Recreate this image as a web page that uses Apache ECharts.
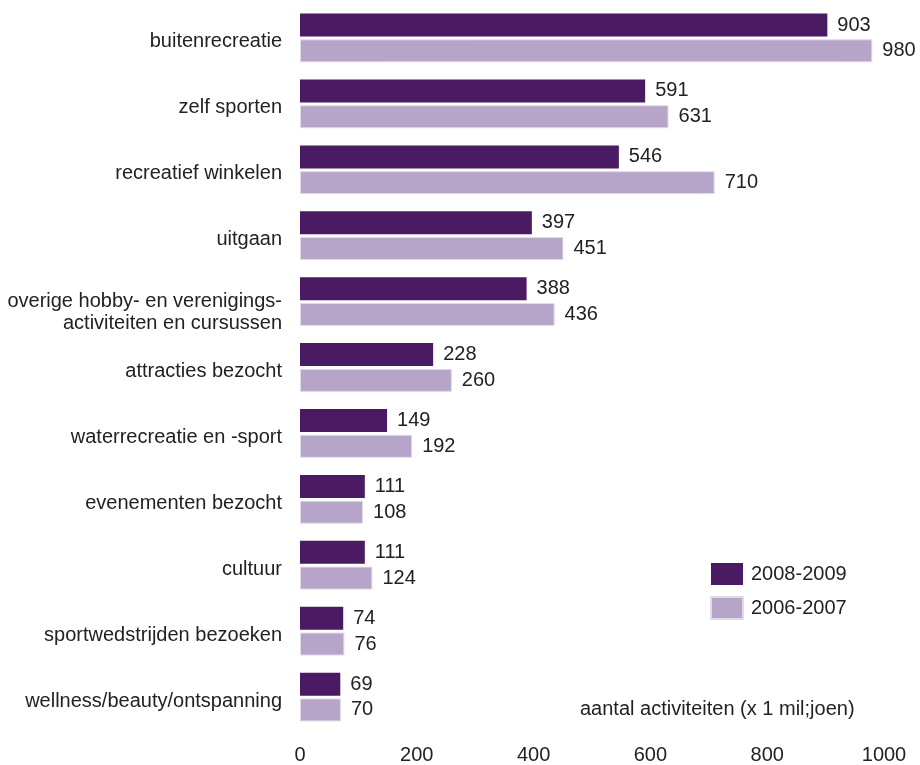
<!DOCTYPE html>
<html>
<head>
<meta charset="utf-8">
<script src="https://cdn.jsdelivr.net/npm/echarts@6/dist/echarts.min.js"></script>
<style>
  html, body { margin: 0; padding: 0; background: #fff; }
  #chart { width: 920px; height: 765px; }
</style>
</head>
<body>
<div id="chart"></div>
<script>
// Categories of leisure activities, top to bottom
const categories = [
  'buitenrecreatie',
  'zelf sporten',
  'recreatief winkelen',
  'uitgaan',
  'overige hobby- en verenigings-\nactiviteiten en cursussen',
  'attracties bezocht',
  'waterrecreatie en -sport',
  'evenementen bezocht',
  'cultuur',
  'sportwedstrijden bezoeken',
  'wellness/beauty/ontspanning'
];

// Number of activities (x 1 million)
const values2008 = [903, 591, 546, 397, 388, 228, 149, 111, 111, 74, 69];
const values2006 = [980, 631, 710, 451, 436, 260, 192, 108, 124, 76, 70];

const seriesNames = ['2008-2009', '2006-2007'];
const xTicks = [0, 200, 400, 600, 800, 1000];

const FONT = 'Liberation Sans, Arial, sans-serif';
const FS = 20;
const DARK = '#4a1a62';
const LIGHT = '#b6a5c9';

const chart = echarts.init(document.getElementById('chart'));

const labelStyle = {
  show: true,
  position: 'right',
  distance: 10,
  color: '#222',
  fontFamily: FONT,
  fontSize: FS
};

// Category labels sit slightly below the bar-pair centre; the first line of
// a two-line label lines up with the pair centre.
function categoryLabel(name) {
  const lines = name.split('\n');
  if (lines.length > 1) {
    return '{first|' + lines[0] + '}\n{rest|' + lines.slice(1).join('}\n{rest|') + '}';
  }
  return '{one|' + name + '}';
}

chart.setOption({
  animation: false,
  backgroundColor: '#fff',
  grid: { left: 300, right: 36, top: 5, bottom: 34, containLabel: false },
  legend: {
    data: seriesNames,
    orient: 'vertical',
    left: 710,
    top: 563,
    padding: 0,
    itemWidth: 32,
    itemHeight: 22,
    itemGap: 11,
    icon: 'rect',
    textStyle: { color: '#222', fontFamily: FONT, fontSize: FS, padding: [0, 0, 0, 3] }
  },
  xAxis: {
    type: 'value',
    min: xTicks[0],
    max: xTicks[xTicks.length - 1],
    interval: 200,
    axisLine: { show: false },
    axisTick: { show: false },
    splitLine: { show: false },
    axisLabel: {
      color: '#222', fontFamily: FONT, fontSize: FS, margin: 15,
      formatter: v => String(v)
    }
  },
  yAxis: {
    type: 'category',
    data: categories,
    inverse: true,
    axisLine: { show: false },
    axisTick: { show: false },
    axisLabel: {
      color: '#222', fontFamily: FONT, fontSize: FS, margin: 18,
      align: 'right',
      formatter: categoryLabel,
      rich: {
        one: { fontFamily: FONT, fontSize: FS, color: '#222', lineHeight: 28, verticalAlign: 'bottom', align: 'right' },
        first: { fontFamily: FONT, fontSize: FS, color: '#222', lineHeight: 44, verticalAlign: 'bottom', align: 'right' },
        rest: { fontFamily: FONT, fontSize: FS, color: '#222', lineHeight: 24, align: 'right' }
      }
    }
  },
  graphic: [{
    type: 'text',
    left: 580,
    top: 699,
    style: {
      text: 'aantal activiteiten (x 1 mil;joen)',
      fill: '#222',
      font: FS + 'px ' + FONT
    }
  }],
  series: [
    {
      name: seriesNames[0],
      type: 'bar',
      data: values2008,
      barWidth: 23,
      barGap: '12%',
      itemStyle: { color: DARK },
      label: labelStyle
    },
    {
      name: seriesNames[1],
      type: 'bar',
      data: values2006,
      barWidth: 23,
      barGap: '12%',
      itemStyle: { color: LIGHT, borderColor: '#e2dae8', borderWidth: 1 },
      label: labelStyle
    }
  ]
});
</script>
</body>
</html>
